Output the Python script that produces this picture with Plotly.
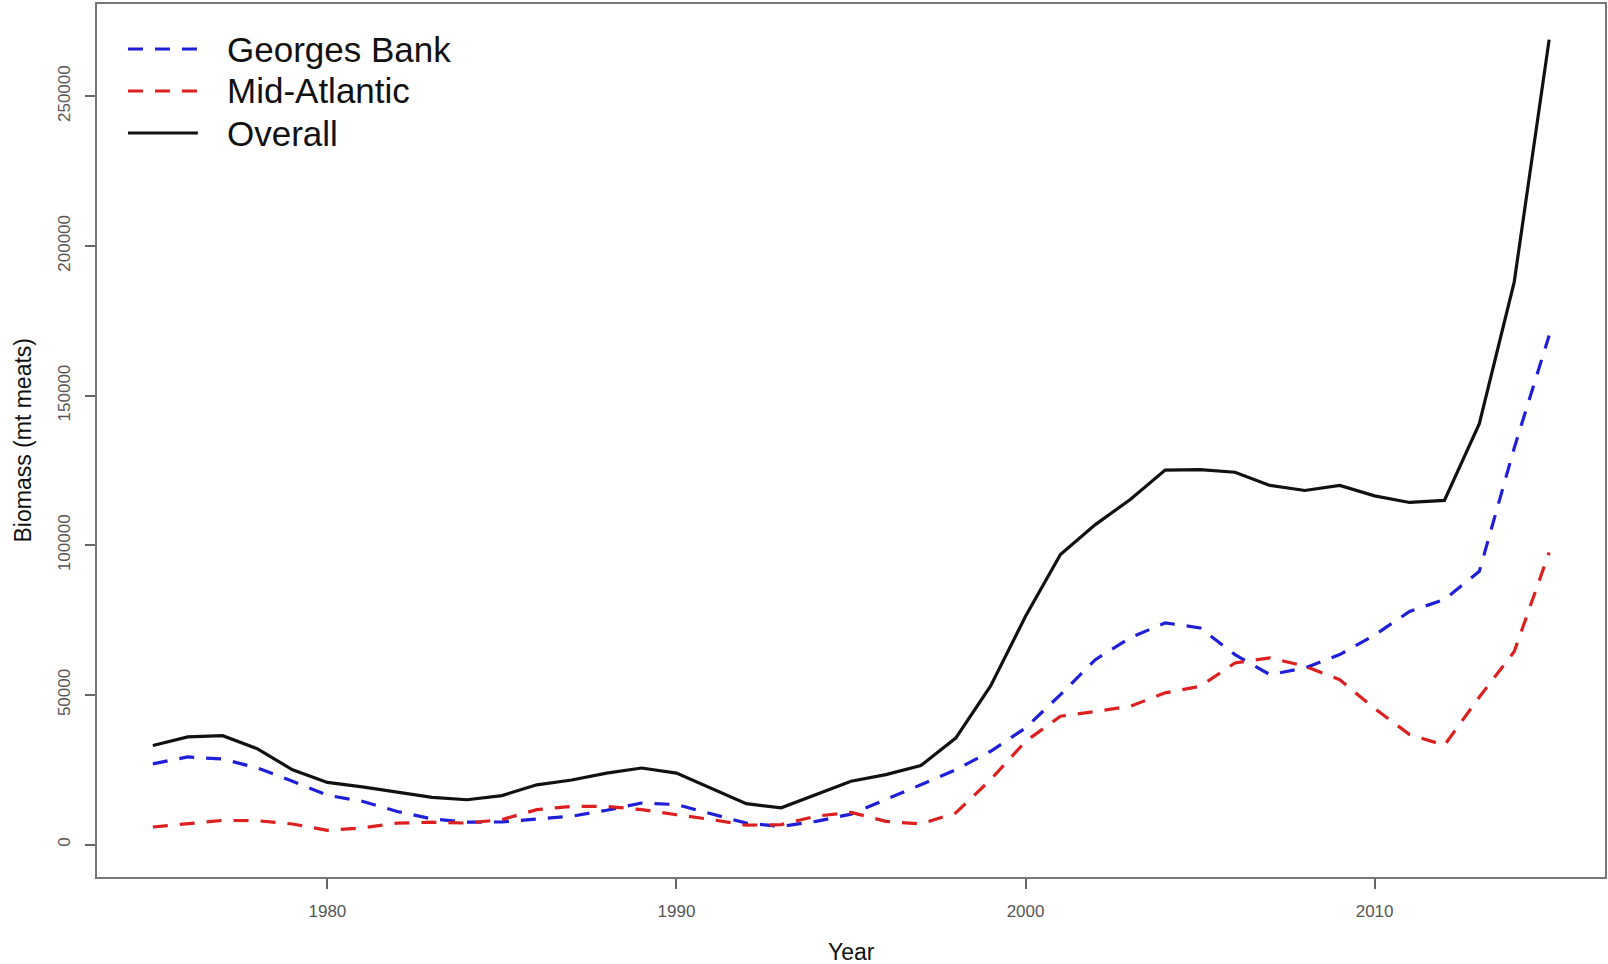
import plotly.graph_objects as go

# Sea scallop biomass (mt meats) by region, 1975-2015
years = list(range(1975, 2016))

georges_bank = [
    27000, 29300, 28600, 25600, 21200, 16500, 14500, 11100, 8600, 7500,
    7600, 8600, 9500, 11500, 13900, 13400, 10400, 7200, 6100, 7800,
    10200, 15000, 20000, 25000, 31200, 39000, 50100, 61800, 69100, 74100,
    72400, 63500, 56800, 59000, 63500, 70000, 77900, 81900, 91300, 132500,
    170100,
]
mid_atlantic = [
    5900, 6900, 8100, 8000, 6900, 4800, 5600, 7200, 7500, 7200,
    8400, 11700, 12800, 12800, 11700, 10000, 8400, 6500, 6700, 9500,
    10800, 7800, 6900, 10600, 21700, 34500, 42900, 44500, 46200, 50700,
    52900, 60700, 62400, 59600, 55100, 45500, 36800, 33200, 49300, 64500,
    97600,
]
overall = [
    33100, 36000, 36400, 32000, 25000, 20800, 19300, 17500, 15800, 15000,
    16400, 20000, 21600, 23900, 25600, 23900, 18900, 13700, 12300, 16700,
    21200, 23400, 26400, 35600, 53000, 76300, 96900, 106900, 115300, 125100,
    125300, 124400, 120000, 118300, 120000, 116500, 114300, 115000, 140600, 188000,
    268900,
]

series_names = ["Georges Bank", "Mid-Atlantic", "Overall"]
series_values = [georges_bank, mid_atlantic, overall]
series_colors = ["#1f1fd8", "#dc1f1f", "#111111"]
series_dash = ["15px,12px", "15px,12px", "solid"]

x_ticks = [1980, 1990, 2000, 2010]
y_ticks = [0, 50000, 100000, 150000, 200000, 250000]

FONT = "Arial, Liberation Sans, sans-serif"

fig = go.Figure()
for name, vals, color, dash in zip(series_names, series_values, series_colors, series_dash):
    fig.add_trace(go.Scatter(
        x=years, y=vals, name=name, mode="lines",
        line=dict(color=color, width=3.2, dash=dash),
        showlegend=False,
    ))

axis_common = dict(
    showgrid=False, zeroline=False,
    showline=True, mirror=True, linecolor="#777777", linewidth=1.5,
    ticks="outside", ticklen=10, tickcolor="#666666", tickwidth=1.5,
    tickfont=dict(family=FONT, size=17, color="#555555"),
)

fig.update_xaxes(
    range=[1973.4, 2016.6],
    tickvals=x_ticks, ticktext=[str(v) for v in x_ticks],
    ticklabelstandoff=8,
    **axis_common,
)
fig.update_yaxes(
    range=[-10800, 280800],
    tickvals=y_ticks, ticktext=[str(v) for v in y_ticks],
    tickangle=-90,
    ticklabelstandoff=8,
    **axis_common,
)

# Legend drawn in the upper-left corner of the plotting region
legend_rows = [49, 91, 133]
plot_top, plot_bottom = 4, 877
plot_h = plot_bottom - plot_top
for row_y, name, color, dash in zip(legend_rows, series_names, series_colors, series_dash):
    yp = 1 - (row_y - plot_top) / plot_h
    fig.add_shape(
        type="line", xref="paper", yref="paper",
        x0=(128 - 97) / 1510, x1=(198 - 97) / 1510, y0=yp, y1=yp,
        line=dict(color=color, width=3.2, dash=dash),
    )
    fig.add_annotation(
        xref="paper", yref="paper", x=(225 - 97) / 1510, y=yp,
        xanchor="left", yanchor="middle", showarrow=False,
        text=name, font=dict(family=FONT, size=35, color="#111111"),
    )

# Axis titles
fig.add_annotation(
    xref="paper", yref="paper", x=0, y=0.5, xshift=-75,
    xanchor="center", yanchor="middle", showarrow=False, textangle=-90,
    text="Biomass (mt meats)", font=dict(family=FONT, size=23, color="#111111"),
)
fig.add_annotation(
    xref="paper", yref="paper", x=0.5, y=0, yshift=-75,
    xanchor="center", yanchor="middle", showarrow=False,
    text="Year", font=dict(family=FONT, size=23, color="#111111"),
)

fig.update_layout(
    width=1608, height=964, autosize=False,
    margin=dict(l=97, r=1, t=4, b=87),
    paper_bgcolor="white", plot_bgcolor="white",
    showlegend=False,
)

fig.write_html("out.html")
